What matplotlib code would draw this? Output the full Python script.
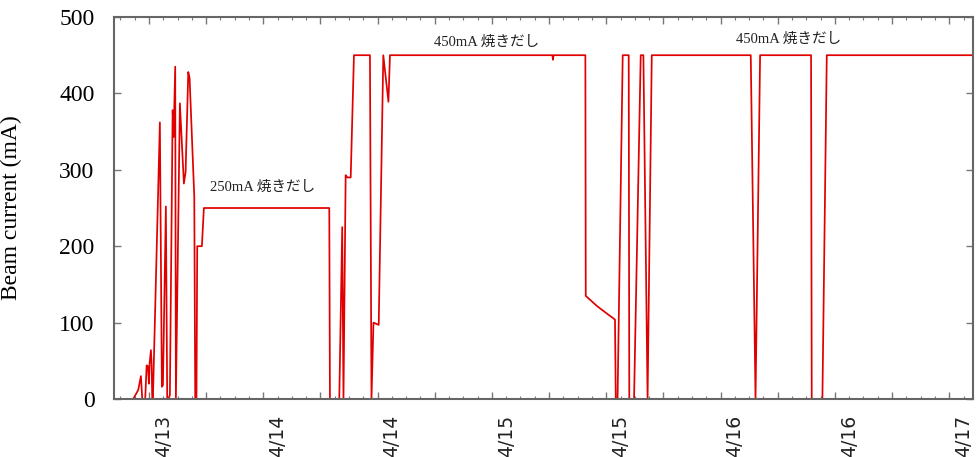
import matplotlib.pyplot as plt
from matplotlib.ticker import MultipleLocator
import matplotlib.transforms as mtransforms

# time in hours from 4/13 00:00, beam current in mA
hours = [10.35, 10.71, 10.88, 11.16, 11.30, 11.61, 11.76, 11.90, 12.00, 12.07,
         12.21, 12.28, 12.35, 12.42, 13.15, 13.36, 13.47, 13.78, 13.92, 14.05,
         14.20, 14.49, 14.59, 14.76, 14.83, 15.25, 15.67, 15.85, 16.13, 16.27,
         16.76, 16.86, 16.99, 17.07, 17.56, 17.77, 30.93, 31.00, 31.98, 32.29,
         32.42, 32.65, 32.82, 33.18, 33.52, 35.20, 35.36, 35.57, 36.12, 36.60,
         37.14, 37.30, 54.35, 54.41, 54.47, 57.81, 57.85, 59.00, 60.05, 60.92,
         61.00, 61.19, 61.73, 62.36, 62.42, 62.92, 63.62, 63.90, 64.34, 64.78,
         75.17, 75.67, 76.15, 81.50, 81.57, 82.69, 83.15, 98.50]
current = [0, 8, 12, 30, 0, 0, 44, 43, 20, 46,
           64, 46, 0, 0, 362, 16, 18, 252, 0, 0,
           5, 378, 343, 435, 0, 387, 282, 297, 428, 420,
           265, 0, 0, 200, 200, 250, 250, 0, 0, 225,
           0, 293, 290, 290, 450, 450, 0, 100, 97, 450,
           389, 450, 450, 444, 450, 450, 135, 122, 112, 104,
           0, 0, 450, 450, 0, 0, 450, 450, 0, 450,
           450, 0, 450, 450, 0, 0, 450, 450]

label_hours = [12, 24, 36, 48, 60, 72, 84, 96]
label_text = ['4/13', '4/14', '4/14', '4/15', '4/15', '4/16', '4/16', '4/17']

notes = ['250mA 焼きだし', '450mA 焼きだし', '450mA 焼きだし']
note_x = [23.97, 47.45, 79.1]
note_y = [277, 467, 471]

serif = ['Liberation Serif', 'Noto Sans CJK JP']

fig = plt.figure(figsize=(9.79, 4.57), dpi=100)
ax = fig.add_axes([0.1164, 0.1269, 0.8775, 0.8359])

ax.plot(hours, current, color='#e00000', linewidth=1.25)

ax.set_xlim(8.33, 98.5)
ax.set_ylim(0, 500)

ax.xaxis.set_major_locator(MultipleLocator(6))
ax.xaxis.set_minor_locator(MultipleLocator(1.5))
ax.set_xticklabels([])
ax.yaxis.set_major_locator(MultipleLocator(100))

ax.tick_params(axis='both', which='both', direction='in', top=True, right=True,
               color='#777777')
ax.tick_params(axis='both', which='major', length=5, width=1)
ax.tick_params(axis='x', which='minor', length=2.5, width=0.8)
ax.tick_params(axis='y', labelsize=17, pad=14)
for lbl in ax.get_yticklabels():
    lbl.set_family(serif)

# date labels every 12 h, drawn as text under the axis
offset = mtransforms.ScaledTranslation(3.5 / 72, -11.5 / 72, fig.dpi_scale_trans)
trans = mtransforms.blended_transform_factory(ax.transData, ax.transAxes) + offset
for hx, txt in zip(label_hours, label_text):
    ax.text(hx, 0, txt, transform=trans, rotation=90, ha='left', va='top',
            fontsize=13.5, family='DejaVu Sans', color='#222222')

for s in ax.spines.values():
    s.set_color('#666666')
    s.set_linewidth(1.5)

ax.set_ylabel('Beam current (mA)', fontsize=17, family=serif)
ax.yaxis.set_label_coords(-0.107, 0.5)

for t, xx, yy in zip(notes, note_x, note_y):
    ax.text(xx, yy, t, ha='center', va='center', fontsize=10.5, family=serif,
            color='#222222')

fig.savefig('out.png', dpi=100)
